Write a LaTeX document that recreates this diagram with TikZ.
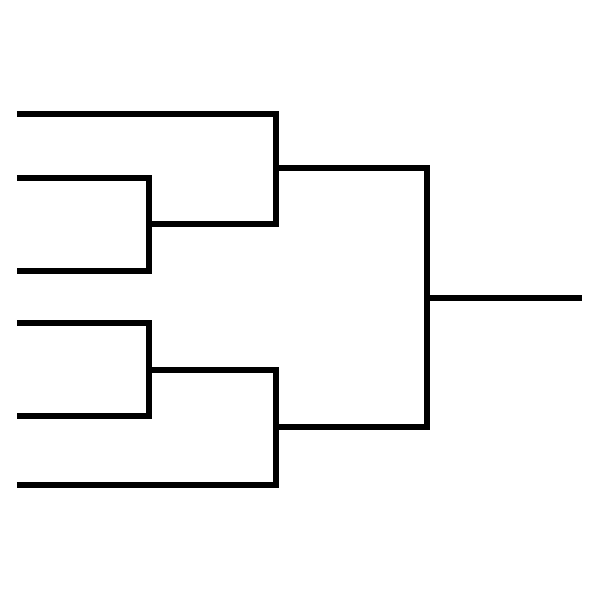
\documentclass[tikz,border=0pt]{standalone}
\usepackage{tikz}

\begin{document}
\begin{tikzpicture}[x=0.02cm,y=-0.02cm]
		\tikzstyle{bracket} = [draw=black,line width=0.13cm,line join=miter]
		\useasboundingbox (0,0) rectangle (600,600);
		% entrants
		\coordinate (e1) at (17,114);
		\coordinate (e2) at (17,178);
		\coordinate (e3) at (17,271);
		\coordinate (e4) at (17,323);
		\coordinate (e5) at (17,416);
		\coordinate (e6) at (17,485);
		% rounds
		\coordinate (m1) at (149,224);
		\coordinate (m2) at (149,370);
		\coordinate (s1) at (276,168);
		\coordinate (s2) at (276,427);
		\coordinate (fin) at (427,298);
		\coordinate (win) at (582,298);
		\draw[bracket] (e2) -| (m1) |- (e3);
		\draw[bracket] (e1) -| (s1) |- (m1);
		\draw[bracket] (e4) -| (m2) |- (e5);
		\draw[bracket] (e6) -| (s2) |- (m2);
		\draw[bracket] (s1) -| (fin) |- (s2);
		\draw[bracket] (fin) -- (win);
\end{tikzpicture}
\end{document}
